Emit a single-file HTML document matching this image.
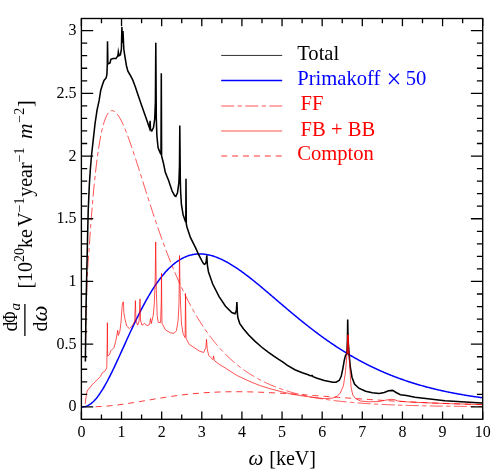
<!DOCTYPE html>
<html><head><meta charset="utf-8"><title>Solar axion flux</title>
<style>html,body{margin:0;padding:0;background:#fff;}body{width:491px;height:471px;overflow:hidden;font-family:"Liberation Serif",serif;}svg{display:block;will-change:transform;}</style></head>
<body>
<svg width="491" height="471" viewBox="0 0 491 471">
<rect x="0" y="0" width="491" height="471" fill="#ffffff"/>
<defs><clipPath id="c"><rect x="81.40" y="18.50" width="401.30" height="400.80"/></clipPath></defs>
<g clip-path="url(#c)" fill="none" stroke-linejoin="round">
<polyline points="81.40,406.90 82.20,406.89 83.01,406.85 83.81,406.76 84.61,406.63 85.41,406.45 86.22,406.21 87.02,405.92 87.82,405.57 88.62,405.16 89.43,404.69 90.23,404.17 91.03,403.59 91.83,402.95 92.64,402.25 93.44,401.50 94.24,400.69 95.04,399.83 95.85,398.92 96.65,397.96 97.45,396.95 98.25,395.89 99.06,394.78 99.86,393.63 100.66,392.43 101.47,391.19 102.27,389.92 103.07,388.60 103.87,387.25 104.68,385.86 105.48,384.44 106.28,382.99 107.08,381.50 107.89,379.99 108.69,378.45 109.49,376.89 110.29,375.30 111.10,373.69 111.90,372.06 112.70,370.41 113.50,368.74 114.31,367.06 115.11,365.36 115.91,363.65 116.71,361.93 117.52,360.19 118.32,358.45 119.12,356.70 119.92,354.94 120.73,353.18 121.53,351.42 122.33,349.65 123.14,347.88 123.94,346.11 124.74,344.33 125.54,342.57 126.35,340.80 127.15,339.04 127.95,337.28 128.75,335.53 129.56,333.78 130.36,332.04 131.16,330.31 131.96,328.59 132.77,326.88 133.57,325.18 134.37,323.49 135.17,321.81 135.98,320.15 136.78,318.50 137.58,316.86 138.38,315.24 139.19,313.64 139.99,312.05 140.79,310.47 141.60,308.92 142.40,307.38 143.20,305.86 144.00,304.36 144.81,302.87 145.61,301.41 146.41,299.96 147.21,298.54 148.02,297.14 148.82,295.75 149.62,294.39 150.42,293.05 151.23,291.73 152.03,290.43 152.83,289.16 153.63,287.90 154.44,286.67 155.24,285.46 156.04,284.28 156.84,283.12 157.65,281.98 158.45,280.86 159.25,279.77 160.05,278.70 160.86,277.65 161.66,276.63 162.46,275.63 163.27,274.65 164.07,273.70 164.87,272.77 165.67,271.87 166.48,270.99 167.28,270.13 168.08,269.29 168.88,268.48 169.69,267.70 170.49,266.93 171.29,266.19 172.09,265.48 172.90,264.78 173.70,264.11 174.50,263.46 175.30,262.84 176.11,262.24 176.91,261.66 177.71,261.10 178.51,260.56 179.32,260.05 180.12,259.56 180.92,259.09 181.73,258.65 182.53,258.22 183.33,257.82 184.13,257.43 184.94,257.07 185.74,256.73 186.54,256.41 187.34,256.11 188.15,255.83 188.95,255.57 189.75,255.34 190.55,255.12 191.36,254.92 192.16,254.74 192.96,254.57 193.76,254.43 194.57,254.31 195.37,254.20 196.17,254.11 196.97,254.04 197.78,253.99 198.58,253.96 199.38,253.94 200.18,253.94 200.99,253.96 201.79,253.99 202.59,254.04 203.40,254.11 204.20,254.19 205.00,254.29 205.80,254.40 206.61,254.53 207.41,254.67 208.21,254.83 209.01,255.00 209.82,255.19 210.62,255.39 211.42,255.60 212.22,255.83 213.03,256.07 213.83,256.33 214.63,256.59 215.43,256.87 216.24,257.17 217.04,257.47 217.84,257.79 218.64,258.11 219.45,258.45 220.25,258.81 221.05,259.17 221.86,259.54 222.66,259.92 223.46,260.32 224.26,260.72 225.07,261.14 225.87,261.56 226.67,261.99 227.47,262.44 228.28,262.89 229.08,263.35 229.88,263.82 230.68,264.30 231.49,264.78 232.29,265.28 233.09,265.78 233.89,266.29 234.70,266.81 235.50,267.33 236.30,267.87 237.10,268.40 237.91,268.95 238.71,269.50 239.51,270.06 240.31,270.63 241.12,271.20 241.92,271.77 242.72,272.36 243.53,272.94 244.33,273.54 245.13,274.14 245.93,274.74 246.74,275.35 247.54,275.96 248.34,276.58 249.14,277.20 249.95,277.82 250.75,278.45 251.55,279.09 252.35,279.72 253.16,280.36 253.96,281.01 254.76,281.66 255.56,282.31 256.37,282.96 257.17,283.62 257.97,284.28 258.77,284.94 259.58,285.60 260.38,286.27 261.18,286.94 261.99,287.61 262.79,288.28 263.59,288.95 264.39,289.63 265.20,290.31 266.00,290.98 266.80,291.66 267.60,292.34 268.41,293.03 269.21,293.71 270.01,294.39 270.81,295.08 271.62,295.76 272.42,296.45 273.22,297.14 274.02,297.82 274.83,298.51 275.63,299.20 276.43,299.89 277.23,300.57 278.04,301.26 278.84,301.95 279.64,302.63 280.44,303.32 281.25,304.00 282.05,304.69 282.85,305.37 283.66,306.06 284.46,306.74 285.26,307.42 286.06,308.10 286.87,308.78 287.67,309.46 288.47,310.14 289.27,310.82 290.08,311.49 290.88,312.17 291.68,312.84 292.48,313.51 293.29,314.18 294.09,314.85 294.89,315.51 295.69,316.18 296.50,316.84 297.30,317.50 298.10,318.16 298.90,318.81 299.71,319.47 300.51,320.12 301.31,320.77 302.12,321.42 302.92,322.07 303.72,322.71 304.52,323.35 305.33,323.99 306.13,324.63 306.93,325.27 307.73,325.90 308.54,326.53 309.34,327.16 310.14,327.78 310.94,328.40 311.75,329.02 312.55,329.64 313.35,330.25 314.15,330.87 314.96,331.48 315.76,332.08 316.56,332.69 317.36,333.29 318.17,333.88 318.97,334.48 319.77,335.07 320.57,335.66 321.38,336.25 322.18,336.83 322.98,337.41 323.79,337.99 324.59,338.56 325.39,339.13 326.19,339.70 327.00,340.27 327.80,340.83 328.60,341.39 329.40,341.95 330.21,342.50 331.01,343.05 331.81,343.60 332.61,344.14 333.42,344.68 334.22,345.22 335.02,345.75 335.82,346.28 336.63,346.81 337.43,347.34 338.23,347.86 339.03,348.38 339.84,348.89 340.64,349.40 341.44,349.91 342.25,350.42 343.05,350.92 343.85,351.42 344.65,351.92 345.46,352.41 346.26,352.90 347.06,353.38 347.86,353.87 348.67,354.35 349.47,354.82 350.27,355.30 351.07,355.77 351.88,356.24 352.68,356.70 353.48,357.16 354.28,357.62 355.09,358.07 355.89,358.52 356.69,358.97 357.49,359.42 358.30,359.86 359.10,360.30 359.90,360.73 360.70,361.16 361.51,361.59 362.31,362.02 363.11,362.44 363.92,362.86 364.72,363.28 365.52,363.69 366.32,364.10 367.13,364.51 367.93,364.91 368.73,365.31 369.53,365.71 370.34,366.11 371.14,366.50 371.94,366.89 372.74,367.27 373.55,367.66 374.35,368.04 375.15,368.41 375.95,368.79 376.76,369.16 377.56,369.53 378.36,369.89 379.16,370.25 379.97,370.61 380.77,370.97 381.57,371.32 382.38,371.67 383.18,372.02 383.98,372.36 384.78,372.71 385.59,373.05 386.39,373.38 387.19,373.72 387.99,374.05 388.80,374.38 389.60,374.70 390.40,375.02 391.20,375.34 392.01,375.66 392.81,375.98 393.61,376.29 394.41,376.60 395.22,376.90 396.02,377.21 396.82,377.51 397.62,377.81 398.43,378.10 399.23,378.40 400.03,378.69 400.83,378.98 401.64,379.26 402.44,379.55 403.24,379.83 404.05,380.10 404.85,380.38 405.65,380.65 406.45,380.92 407.26,381.19 408.06,381.46 408.86,381.72 409.66,381.98 410.47,382.24 411.27,382.50 412.07,382.76 412.87,383.01 413.68,383.26 414.48,383.50 415.28,383.75 416.08,383.99 416.89,384.23 417.69,384.47 418.49,384.71 419.29,384.94 420.10,385.17 420.90,385.40 421.70,385.63 422.50,385.86 423.31,386.08 424.11,386.30 424.91,386.52 425.72,386.74 426.52,386.95 427.32,387.17 428.12,387.38 428.93,387.59 429.73,387.79 430.53,388.00 431.33,388.20 432.14,388.40 432.94,388.60 433.74,388.80 434.54,389.00 435.35,389.19 436.15,389.38 436.95,389.57 437.75,389.76 438.56,389.94 439.36,390.13 440.16,390.31 440.96,390.49 441.77,390.67 442.57,390.85 443.37,391.02 444.18,391.20 444.98,391.37 445.78,391.54 446.58,391.71 447.39,391.88 448.19,392.04 448.99,392.20 449.79,392.37 450.60,392.53 451.40,392.69 452.20,392.84 453.00,393.00 453.81,393.15 454.61,393.30 455.41,393.46 456.21,393.60 457.02,393.75 457.82,393.90 458.62,394.04 459.42,394.19 460.23,394.33 461.03,394.47 461.83,394.61 462.63,394.75 463.44,394.88 464.24,395.02 465.04,395.15 465.85,395.28 466.65,395.41 467.45,395.54 468.25,395.67 469.06,395.80 469.86,395.92 470.66,396.05 471.46,396.17 472.27,396.29 473.07,396.41 473.87,396.53 474.67,396.65 475.48,396.76 476.28,396.88 477.08,396.99 477.88,397.11 478.69,397.22 479.49,397.33 480.29,397.44 481.09,397.55 481.90,397.65 482.70,397.76" stroke="#0000ff" stroke-width="1.5"/>
<polyline points="85.45,359.00 85.70,340.00 86.20,310.00 87.10,280.00 88.10,261.70 89.02,250.56 89.83,238.45 90.63,227.07 91.43,216.40 92.24,206.42 93.04,197.09 93.84,188.39 94.64,180.29 95.45,172.78 96.25,165.82 97.05,159.39 97.85,153.46 98.66,148.02 99.46,143.03 100.26,138.49 101.06,134.37 101.87,130.64 102.67,127.29 103.47,124.31 104.27,121.67 105.08,119.35 105.88,117.34 106.68,115.63 107.48,114.19 108.29,113.02 109.09,112.10 109.89,111.41 110.69,110.95 111.50,110.70 112.30,110.65 113.10,110.79 113.91,111.11 114.71,111.59 115.51,112.23 116.31,113.03 117.12,113.96 117.92,115.02 118.72,116.21 119.52,117.51 120.33,118.92 121.13,120.43 121.93,122.04 122.73,123.74 123.54,125.51 124.34,127.37 125.14,129.29 125.94,131.29 126.75,133.34 127.55,135.45 128.35,137.61 129.15,139.82 129.96,142.07 130.76,144.36 131.56,146.69 132.37,149.05 133.17,151.44 133.97,153.86 134.77,156.30 135.58,158.76 136.38,161.24 137.18,163.73 137.98,166.23 138.79,168.75 139.59,171.28 140.39,173.81 141.19,176.34 142.00,178.88 142.80,181.42 143.60,183.96 144.40,186.49 145.21,189.02 146.01,191.55 146.81,194.07 147.61,196.58 148.42,199.09 149.22,201.58 150.02,204.07 150.82,206.54 151.63,209.00 152.43,211.45 153.23,213.88 154.04,216.30 154.84,218.70 155.64,221.09 156.44,223.46 157.25,225.81 158.05,228.14 158.85,230.46 159.65,232.76 160.46,235.04 161.26,237.30 162.06,239.54 162.86,241.76 163.67,243.96 164.47,246.14 165.27,248.30 166.07,250.44 166.88,252.55 167.68,254.65 168.48,256.73 169.28,258.78 170.09,260.81 170.89,262.82 171.69,264.81 172.50,266.78 173.30,268.73 174.10,270.65 174.90,272.56 175.71,274.44 176.51,276.30 177.31,278.14 178.11,279.95 178.92,281.75 179.72,283.53 180.52,285.28 181.32,287.01 182.13,288.72 182.93,290.41 183.73,292.08 184.53,293.73 185.34,295.36 186.14,296.97 186.94,298.56 187.74,300.13 188.55,301.67 189.35,303.20 190.15,304.71 190.95,306.20 191.76,307.67 192.56,309.12 193.36,310.55 194.17,311.96 194.97,313.36 195.77,314.73 196.57,316.09 197.38,317.43 198.18,318.75 198.98,320.05 199.78,321.34 200.59,322.60 201.39,323.85 202.19,325.09 202.99,326.30 203.80,327.50 204.60,328.69 205.40,329.85 206.20,331.00 207.01,332.14 207.81,333.25 208.61,334.36 209.41,335.44 210.22,336.52 211.02,337.57 211.82,338.62 212.63,339.64 213.43,340.65 214.23,341.65 215.03,342.64 215.84,343.61 216.64,344.56 217.44,345.50 218.24,346.43 219.05,347.35 219.85,348.25 220.65,349.14 221.45,350.02 222.26,350.88 223.06,351.73 223.86,352.57 224.66,353.39 225.47,354.21 226.27,355.01 227.07,355.80 227.87,356.58 228.68,357.35 229.48,358.10 230.28,358.85 231.08,359.58 231.89,360.30 232.69,361.02 233.49,361.72 234.30,362.41 235.10,363.09 235.90,363.76 236.70,364.42 237.51,365.08 238.31,365.72 239.11,366.35 239.91,366.97 240.72,367.59 241.52,368.19 242.32,368.78 243.12,369.37 243.93,369.95 244.73,370.52 245.53,371.08 246.33,371.63 247.14,372.17 247.94,372.71 248.74,373.23 249.54,373.75 250.35,374.26 251.15,374.77 251.95,375.26 252.76,375.75 253.56,376.23 254.36,376.71 255.16,377.17 255.97,377.63 256.77,378.09 257.57,378.53 258.37,378.97 259.18,379.40 259.98,379.83 260.78,380.25 261.58,380.66 262.39,381.07 263.19,381.47 263.99,381.86 264.79,382.25 265.60,382.63 266.40,383.01 267.20,383.38 268.00,383.74 268.81,384.10 269.61,384.46 270.41,384.81 271.21,385.15 272.02,385.49 272.82,385.82 273.62,386.15 274.43,386.47 275.23,386.79 276.03,387.10 276.83,387.41 277.64,387.71 278.44,388.01 279.24,388.30 280.04,388.59 280.85,388.88 281.65,389.16 282.45,389.43 283.25,389.71 284.06,389.97 284.86,390.24 285.66,390.50 286.46,390.75 287.27,391.00 288.07,391.25 288.87,391.50 289.67,391.74 290.48,391.97 291.28,392.21 292.08,392.43 292.89,392.66 293.69,392.88 294.49,393.10 295.29,393.32 296.10,393.53 296.90,393.74 297.70,393.94 298.50,394.14 299.31,394.34 300.11,394.54 300.91,394.73 301.71,394.92 302.52,395.11 303.32,395.29 304.12,395.47 304.92,395.65 305.73,395.83 306.53,396.00 307.33,396.17 308.13,396.34 308.94,396.50 309.74,396.67 310.54,396.83 311.34,396.98 312.15,397.14 312.95,397.29 313.75,397.44 314.56,397.59 315.36,397.74 316.16,397.88 316.96,398.02 317.77,398.16 318.57,398.30 319.37,398.43 320.17,398.56 320.98,398.69 321.78,398.82 322.58,398.95 323.38,399.07 324.19,399.19 324.99,399.31 325.79,399.43 326.59,399.55 327.40,399.67 328.20,399.78 329.00,399.89 329.80,400.00 330.61,400.11 331.41,400.21 332.21,400.32 333.02,400.42 333.82,400.52 334.62,400.62 335.42,400.72 336.23,400.82 337.03,400.91 337.83,401.01 338.63,401.10 339.44,401.19 340.24,401.28 341.04,401.37 341.84,401.45 342.65,401.54 343.45,401.62 344.25,401.71 345.05,401.79 345.86,401.87 346.66,401.95 347.46,402.02 348.26,402.10 349.07,402.18 349.87,402.25 350.67,402.32 351.47,402.39 352.28,402.46 353.08,402.53 353.88,402.60 354.69,402.67 355.49,402.74 356.29,402.80 357.09,402.87 357.90,402.93 358.70,402.99 359.50,403.05 360.30,403.11 361.11,403.17 361.91,403.23 362.71,403.29 363.51,403.34 364.32,403.40 365.12,403.45 365.92,403.51 366.72,403.56 367.53,403.61 368.33,403.67 369.13,403.72 369.93,403.77 370.74,403.81 371.54,403.86 372.34,403.91 373.15,403.96 373.95,404.00 374.75,404.05 375.55,404.09 376.36,404.14 377.16,404.18 377.96,404.22 378.76,404.27 379.57,404.31 380.37,404.35 381.17,404.39 381.97,404.43 382.78,404.47 383.58,404.50 384.38,404.54 385.18,404.58 385.99,404.61 386.79,404.65 387.59,404.69 388.39,404.72 389.20,404.75 390.00,404.79 390.80,404.82 391.60,404.85 392.41,404.89 393.21,404.92 394.01,404.95 394.82,404.98 395.62,405.01 396.42,405.04 397.22,405.07 398.03,405.10 398.83,405.12 399.63,405.15 400.43,405.18 401.24,405.21 402.04,405.23 402.84,405.26 403.64,405.29 404.45,405.31 405.25,405.34 406.05,405.36 406.85,405.38 407.66,405.41 408.46,405.43 409.26,405.45 410.06,405.48 410.87,405.50 411.67,405.52 412.47,405.54 413.28,405.56 414.08,405.58 414.88,405.61 415.68,405.63 416.49,405.65 417.29,405.67 418.09,405.68 418.89,405.70 419.70,405.72 420.50,405.74 421.30,405.76 422.10,405.78 422.91,405.79 423.71,405.81 424.51,405.83 425.31,405.85 426.12,405.86 426.92,405.88 427.72,405.89 428.52,405.91 429.33,405.93 430.13,405.94 430.93,405.96 431.73,405.97 432.54,405.99 433.34,406.00 434.14,406.01 434.95,406.03 435.75,406.04 436.55,406.05 437.35,406.07 438.16,406.08 438.96,406.09 439.76,406.11 440.56,406.12 441.37,406.13 442.17,406.14 442.97,406.16 443.77,406.17 444.58,406.18 445.38,406.19 446.18,406.20 446.98,406.21 447.79,406.22 448.59,406.23 449.39,406.24 450.19,406.25 451.00,406.26 451.80,406.27 452.60,406.28 453.41,406.29 454.21,406.30 455.01,406.31 455.81,406.32 456.62,406.33 457.42,406.34 458.22,406.35 459.02,406.36 459.83,406.37 460.63,406.37 461.43,406.38 462.23,406.39 463.04,406.40 463.84,406.41 464.64,406.41 465.44,406.42 466.25,406.43 467.05,406.44 467.85,406.44 468.65,406.45 469.46,406.46 470.26,406.46 471.06,406.47 471.86,406.48 472.67,406.48 473.47,406.49 474.27,406.50 475.08,406.50 475.88,406.51 476.68,406.52 477.48,406.52 478.29,406.53 479.09,406.53 479.89,406.54 480.69,406.55 481.50,406.55 482.30,406.56" stroke="#ff0000" stroke-width="0.68" stroke-dasharray="13 3.4 4.3 3.4" stroke-dashoffset="6"/>
<polyline points="85.40,361.40 85.60,340.00 86.00,310.00 86.60,279.80 87.10,258.00 87.60,236.30 88.20,210.90 89.30,185.40 90.30,170.00 91.60,154.50 93.30,139.30 95.00,124.00 97.00,110.40 99.20,100.20 100.70,90.50 102.20,85.50 104.00,80.40 106.10,78.00 106.90,74.60 107.30,64.30 107.50,41.30 107.90,64.00 110.00,62.90 110.90,59.40 113.00,58.60 116.00,58.40 117.60,56.20 118.10,54.50 118.35,52.00 119.10,55.80 120.40,54.90 121.40,49.00 121.90,27.00 122.40,43.00 123.00,31.00 123.80,49.00 124.80,55.80 126.50,66.00 127.90,71.20 130.10,75.00 132.70,79.90 135.20,86.40 137.70,94.00 142.00,106.50 147.10,121.00 149.60,128.30 150.10,120.70 150.50,129.50 151.80,130.90 153.50,127.50 154.70,119.00 155.40,102.00 155.80,42.70 156.30,119.00 156.90,136.00 158.10,147.80 160.30,153.00 161.00,154.00 161.30,73.30 161.60,156.00 163.40,163.00 165.30,172.30 168.70,180.80 172.10,191.00 174.60,195.70 175.80,196.40 177.50,192.70 178.90,182.50 179.50,165.50 179.80,125.40 180.30,180.00 180.60,191.00 181.40,204.50 183.10,214.70 185.30,221.20 185.80,222.00 186.00,178.70 186.30,224.00 187.00,227.20 190.40,237.40 195.50,247.60 198.90,255.20 202.30,261.60 203.60,263.60 204.60,264.30 205.50,263.60 206.20,261.50 206.80,255.20 207.40,265.50 208.50,272.00 212.70,284.00 219.10,296.70 225.50,306.30 231.80,312.60 235.00,313.70 236.40,310.50 236.90,302.00 237.40,313.70 237.90,317.80 239.80,323.60 243.60,328.90 248.70,335.00 255.10,341.40 261.50,347.00 267.80,351.90 274.20,356.30 278.70,359.40 283.00,362.20 287.40,365.30 294.90,369.70 302.30,372.70 307.50,374.50 311.00,375.90 312.00,375.40 313.00,376.60 317.10,378.30 324.30,380.50 332.80,382.20 336.00,382.20 339.20,380.50 341.20,376.30 342.80,368.80 344.30,360.20 345.50,355.50 346.90,353.40 347.40,340.00 347.70,319.50 348.10,340.00 349.20,355.10 350.30,367.00 352.00,377.20 354.50,384.00 358.80,388.20 365.60,391.30 372.40,392.80 379.20,393.50 384.30,392.50 388.50,390.80 392.70,390.40 396.10,392.50 400.40,394.70 406.30,395.50 415.00,397.20 445.00,400.70 482.00,402.90" stroke="#000000" stroke-width="1.55" stroke-linejoin="miter" stroke-miterlimit="10"/>
<polyline points="85.20,404.00 85.90,397.70 87.10,391.00 91.90,385.00 97.00,379.90 100.40,376.50 102.10,373.10 105.50,370.60 106.80,367.20 107.20,340.00 107.40,322.70 107.70,356.10 109.70,354.40 110.60,351.00 114.00,347.60 115.70,341.30 117.00,334.50 117.70,330.30 118.40,335.40 119.90,331.10 121.10,321.00 122.10,306.50 122.80,302.30 123.50,301.90 123.80,312.50 125.00,319.30 126.70,326.00 129.30,328.60 132.70,325.20 134.70,321.00 135.40,300.60 136.00,321.00 137.70,325.20 139.10,321.00 140.00,298.90 140.60,321.00 142.00,325.20 144.50,323.50 147.10,325.70 149.60,324.40 150.50,318.40 151.30,323.50 153.20,315.50 154.30,303.60 155.20,280.00 155.70,241.90 156.30,290.00 157.20,315.50 158.20,322.30 160.60,322.60 161.30,300.00 161.50,273.30 161.70,300.00 162.00,323.10 163.30,325.70 165.40,329.90 170.50,332.80 173.90,333.30 176.40,330.80 178.10,320.60 179.00,303.60 179.50,255.50 180.10,290.00 180.70,307.00 181.50,324.00 183.20,334.20 185.10,337.60 185.50,293.50 186.10,338.40 189.20,344.40 194.30,347.70 199.40,351.10 203.60,352.50 205.80,347.70 206.50,339.30 207.30,349.40 208.70,355.40 212.90,359.60 213.60,355.90 214.30,360.50 219.70,364.70 225.00,367.80 237.00,375.50 250.00,381.60 260.60,385.80 271.20,389.00 281.80,391.80 292.50,394.30 303.10,396.00 313.70,397.50 324.30,398.60 332.80,398.10 337.00,396.40 340.20,393.20 343.40,385.80 345.20,374.00 346.50,360.20 347.45,345.00 347.70,334.80 348.20,334.80 348.50,345.00 349.40,360.20 350.30,375.50 351.10,387.40 352.80,395.00 355.40,398.40 360.50,401.00 369.00,401.80 379.20,401.50 386.00,400.10 391.00,399.30 394.40,399.60 397.80,401.00 406.30,401.80 415.00,402.30 445.00,403.50 482.00,404.50" stroke="#ff0000" stroke-width="0.68" stroke-linejoin="miter"/>
<path d="M347.95 335.2V353.8" stroke="#ff0000" stroke-width="1.25"/>
<polyline points="95.65,406.72 97.65,406.64 99.66,406.54 101.67,406.43 103.67,406.30 105.68,406.15 107.69,405.99 109.69,405.81 111.70,405.61 113.70,405.40 115.71,405.17 117.72,404.93 119.72,404.67 121.73,404.40 123.74,404.12 125.74,403.83 127.75,403.53 129.76,403.22 131.76,402.90 133.77,402.58 135.78,402.25 137.78,401.92 139.79,401.58 141.80,401.24 143.80,400.89 145.81,400.55 147.82,400.21 149.82,399.86 151.83,399.52 153.83,399.18 155.84,398.84 157.85,398.51 159.85,398.18 161.86,397.85 163.87,397.53 165.87,397.22 167.88,396.91 169.89,396.61 171.89,396.31 173.90,396.03 175.91,395.75 177.91,395.48 179.92,395.21 181.93,394.96 183.93,394.72 185.94,394.48 187.95,394.26 189.95,394.04 191.96,393.84 193.96,393.64 195.97,393.45 197.98,393.28 199.98,393.11 201.99,392.95 204.00,392.80 206.00,392.67 208.01,392.54 210.02,392.42 212.02,392.31 214.03,392.22 216.04,392.13 218.04,392.05 220.05,391.98 222.06,391.91 224.06,391.86 226.07,391.82 228.08,391.78 230.08,391.76 232.09,391.74 234.09,391.73 236.10,391.72 238.11,391.73 240.11,391.74 242.12,391.76 244.13,391.79 246.13,391.82 248.14,391.86 250.15,391.90 252.15,391.96 254.16,392.01 256.17,392.08 258.17,392.15 260.18,392.22 262.19,392.30 264.19,392.39 266.20,392.48 268.21,392.57 270.21,392.67 272.22,392.77 274.22,392.88 276.23,392.99 278.24,393.10 280.24,393.22 282.25,393.34 284.26,393.46 286.26,393.59 288.27,393.72 290.28,393.85 292.28,393.98 294.29,394.12 296.30,394.25 298.30,394.39 300.31,394.53 302.32,394.67 304.32,394.82 306.33,394.96 308.34,395.11 310.34,395.25 312.35,395.40 314.35,395.55 316.36,395.70 318.37,395.85 320.37,396.00 322.38,396.15 324.39,396.30 326.39,396.45 328.40,396.60 330.41,396.75 332.41,396.89 334.42,397.04 336.43,397.19 338.43,397.34 340.44,397.49 342.45,397.64 344.45,397.78 346.46,397.93 348.47,398.07 350.47,398.22 352.48,398.36 354.48,398.50 356.49,398.64 358.50,398.78 360.50,398.92 362.51,399.06 364.52,399.20 366.52,399.33 368.53,399.46 370.54,399.60 372.54,399.73 374.55,399.86 376.56,399.99 378.56,400.11 380.57,400.24 382.58,400.36 384.58,400.49 386.59,400.61 388.60,400.73 390.60,400.85 392.61,400.96 394.61,401.08 396.62,401.19 398.63,401.30 400.63,401.41 402.64,401.52 404.65,401.63 406.65,401.74 408.66,401.84 410.67,401.94 412.67,402.05 414.68,402.15 416.69,402.24 418.69,402.34 420.70,402.44 422.71,402.53 424.71,402.62 426.72,402.71 428.73,402.80 430.73,402.89 432.74,402.97 434.74,403.06 436.75,403.14 438.76,403.22 440.76,403.30 442.77,403.38 444.78,403.46 446.78,403.54 448.79,403.61 450.80,403.68 452.80,403.76 454.81,403.83 456.82,403.90 458.82,403.96 460.83,404.03 462.84,404.10 464.84,404.16 466.85,404.22 468.86,404.28 470.86,404.35 472.87,404.40 474.87,404.46 476.88,404.52 478.89,404.58 480.89,404.63 482.90,404.68" stroke="#ff0000" stroke-width="0.8" stroke-dasharray="6 4.9"/>
</g>
<path d="M81.40 419.30V411.50M81.40 18.50V26.30M101.47 419.30V414.60M101.47 18.50V23.20M121.53 419.30V411.50M121.53 18.50V26.30M141.60 419.30V414.60M141.60 18.50V23.20M161.66 419.30V411.50M161.66 18.50V26.30M181.73 419.30V414.60M181.73 18.50V23.20M201.79 419.30V411.50M201.79 18.50V26.30M221.86 419.30V414.60M221.86 18.50V23.20M241.92 419.30V411.50M241.92 18.50V26.30M261.99 419.30V414.60M261.99 18.50V23.20M282.05 419.30V411.50M282.05 18.50V26.30M302.12 419.30V414.60M302.12 18.50V23.20M322.18 419.30V411.50M322.18 18.50V26.30M342.25 419.30V414.60M342.25 18.50V23.20M362.31 419.30V411.50M362.31 18.50V26.30M382.38 419.30V414.60M382.38 18.50V23.20M402.44 419.30V411.50M402.44 18.50V26.30M422.50 419.30V414.60M422.50 18.50V23.20M442.57 419.30V411.50M442.57 18.50V26.30M462.63 419.30V414.60M462.63 18.50V23.20M482.70 419.30V411.50M482.70 18.50V26.30M81.40 406.90H93.20M482.70 406.90H470.90M81.40 394.36H87.20M482.70 394.36H476.90M81.40 381.81H87.20M482.70 381.81H476.90M81.40 369.27H87.20M482.70 369.27H476.90M81.40 356.73H87.20M482.70 356.73H476.90M81.40 344.18H93.20M482.70 344.18H470.90M81.40 331.64H87.20M482.70 331.64H476.90M81.40 319.10H87.20M482.70 319.10H476.90M81.40 306.56H87.20M482.70 306.56H476.90M81.40 294.01H87.20M482.70 294.01H476.90M81.40 281.47H93.20M482.70 281.47H470.90M81.40 268.93H87.20M482.70 268.93H476.90M81.40 256.38H87.20M482.70 256.38H476.90M81.40 243.84H87.20M482.70 243.84H476.90M81.40 231.30H87.20M482.70 231.30H476.90M81.40 218.75H93.20M482.70 218.75H470.90M81.40 206.21H87.20M482.70 206.21H476.90M81.40 193.67H87.20M482.70 193.67H476.90M81.40 181.13H87.20M482.70 181.13H476.90M81.40 168.58H87.20M482.70 168.58H476.90M81.40 156.04H93.20M482.70 156.04H470.90M81.40 143.50H87.20M482.70 143.50H476.90M81.40 130.95H87.20M482.70 130.95H476.90M81.40 118.41H87.20M482.70 118.41H476.90M81.40 105.87H87.20M482.70 105.87H476.90M81.40 93.32H93.20M482.70 93.32H470.90M81.40 80.78H87.20M482.70 80.78H476.90M81.40 68.24H87.20M482.70 68.24H476.90M81.40 55.70H87.20M482.70 55.70H476.90M81.40 43.15H87.20M482.70 43.15H476.90M81.40 30.61H93.20M482.70 30.61H470.90" stroke="#000" stroke-width="1.3" fill="none"/>
<rect x="81.40" y="18.50" width="401.30" height="400.80" fill="none" stroke="#000" stroke-width="1.35"/>
<g font-family="'Liberation Serif', serif" font-size="16" fill="#000">
<text x="81.40" y="437.1" text-anchor="middle">0</text>
<text x="121.53" y="437.1" text-anchor="middle">1</text>
<text x="161.66" y="437.1" text-anchor="middle">2</text>
<text x="201.79" y="437.1" text-anchor="middle">3</text>
<text x="241.92" y="437.1" text-anchor="middle">4</text>
<text x="282.05" y="437.1" text-anchor="middle">5</text>
<text x="322.18" y="437.1" text-anchor="middle">6</text>
<text x="362.31" y="437.1" text-anchor="middle">7</text>
<text x="402.44" y="437.1" text-anchor="middle">8</text>
<text x="442.57" y="437.1" text-anchor="middle">9</text>
<text x="482.70" y="437.1" text-anchor="middle">10</text>
<text x="76.6" y="411.40" text-anchor="end">0</text>
<text x="76.6" y="348.68" text-anchor="end">0.5</text>
<text x="76.6" y="285.97" text-anchor="end">1</text>
<text x="76.6" y="223.25" text-anchor="end">1.5</text>
<text x="76.6" y="160.54" text-anchor="end">2</text>
<text x="76.6" y="97.82" text-anchor="end">2.5</text>
<text x="76.6" y="35.11" text-anchor="end">3</text>
</g>
<g font-family="'Liberation Serif', serif" fill="#000">
<text x="248.4" y="465.3" font-size="21" font-style="italic">ω</text>
<text x="269.2" y="465.3" font-size="20.1">[keV]</text>
</g>
<g font-family="'Liberation Serif', serif" font-size="20" fill="#000">
<text transform="translate(32.2,288.6) rotate(-90)">[10<tspan dy="-8.3" font-size="14">20</tspan><tspan dy="8.3">ke</tspan><tspan dx="2.3">V</tspan><tspan dy="-8.3" font-size="14">−1</tspan><tspan dy="8.3" dx="0.6">year</tspan><tspan dy="-8.3" font-size="14">−1</tspan><tspan dy="8.3" dx="8.5" font-style="italic" font-size="21.5">m</tspan><tspan dy="-8.3" font-size="14" dx="0.8">−2</tspan><tspan dy="8.3" dx="0.6">]</tspan></text>
<text transform="translate(17,331.6) rotate(-90)">d</text>
<text transform="translate(17,322.8) rotate(-90) scale(0.76,1)">Φ</text>
<text transform="translate(19.8,310.6) rotate(-90)" font-size="15" font-style="italic">a</text>
<text transform="translate(46.7,331.6) rotate(-90)">d<tspan font-style="italic" font-size="22.5">ω</tspan></text>
<path d="M24.9 304V336" stroke="#000" stroke-width="1.3"/>
</g>
<g fill="none">
<path d="M221.2 55.45H282.2" stroke="#000" stroke-width="0.8"/>
<path d="M221.2 80.5H282.2" stroke="#0000ff" stroke-width="1.4"/>
<path d="M221.2 106.0H282.2" stroke="#ff0000" stroke-width="0.68" stroke-dasharray="13 3.4 4.3 3.4"/>
<path d="M221.2 131.0H282.2" stroke="#ff0000" stroke-width="0.68"/>
<path d="M221.2 156.0H282.2" stroke="#ff0000" stroke-width="0.8" stroke-dasharray="6 4.9"/>
</g>
<g font-family="'Liberation Serif', serif" font-size="20.6">
<text x="297.2" y="60.1" fill="#000">Total</text>
<text x="297.2" y="84.9" fill="#0000ff">Primakoff <tspan font-size="26.5" dy="2.6" dx="1.0">×</tspan><tspan dy="-2.6" dx="-0.8"> 50</tspan></text>
<text x="300.6" y="110.2" fill="#ff0000">FF</text>
<text x="300.6" y="135.6" fill="#ff0000">FB + BB</text>
<text x="297.2" y="160.4" fill="#ff0000">Compton</text>
</g>
</svg>
</body></html>
